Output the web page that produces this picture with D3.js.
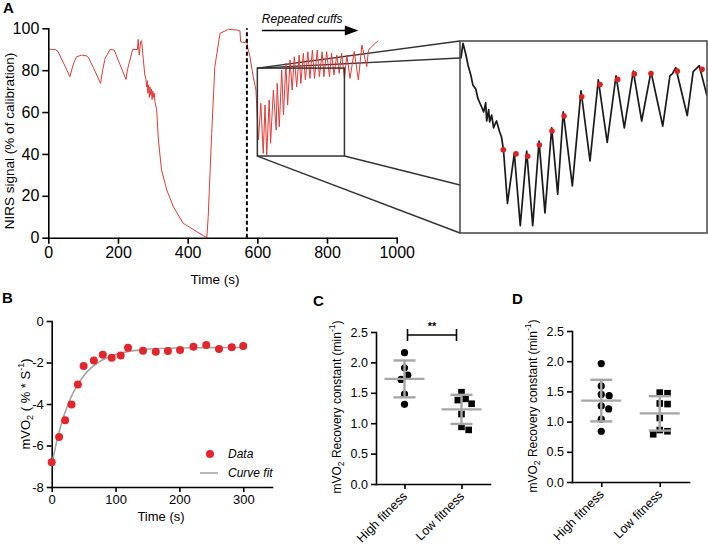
<!DOCTYPE html>
<html><head><meta charset="utf-8">
<script src="https://cdn.jsdelivr.net/npm/d3@7"></script>
<style>body{margin:0;background:#fff}</style>
</head><body>
<svg id="c" width="708" height="546"></svg>
<script>
// ---------- Panel A: NIRS trace ----------
const nirsTime = [0,10,20,28,45,62,72,81,96,110,115,130,150,156,163,177,189,205,223,227,242,256,258,261,265,268,271,277,280,282,284,286,288,290,292,294,296,298,300,302,304,306,311,316,325,340,359,387,426,445,455,459,469,478,493,517,541,550,552,565,569,572,579,588,596,603,610,617,622,627,634,638,646,654,657,663,670,675,682,687,694,700,706,713,720,725,732,738,745,751,758,764,772,778,786,791,799,807,813,820,828,835,842,850,857,866,878,890,900,914,919,928,938,947];
const nirsValue = [90.3,89.8,89.9,88.8,83,76.9,83,86.4,87.2,86.8,86.1,81,73.7,80,85.6,89.9,89.6,83,75.6,80.1,89.9,89.9,94.7,87.2,93.6,94.1,88,77.7,76,72,75,69,73,67,72,68,71,66,70,67,69,65,61.3,46.6,32.4,22.8,14.8,6.9,2.9,1,0,10.1,49.8,81.7,97.6,99.5,99.2,98.8,93.6,93.1,94.7,91,86.4,76.9,70.5,46.7,64.2,40.3,63.4,39.5,65.8,45.1,70.5,51.4,73.7,53,80.1,58.6,83.3,63.4,84.9,70.5,86.4,72.1,87.2,73.7,88.1,75.3,88.8,76.1,89.6,76.1,89.6,76.9,88.8,76.9,88.8,76.9,88.1,77.7,87.2,78.5,88.1,76.1,87.2,76.1,88.9,75.3,92,81.7,89.6,91.2,92.8,94.1];
const aXTicks = [0,200,400,600,800,1000];
const aYTicks = [0,20,40,60,80,100];
const cuffStart = 570;            // dashed line time
const zoomWindowTime = [600, 850];
const zoomWindowValue = [39, 81];

// Inset (zoomed trace)
const insetTime = [600,601,603,606,608,611,613,616,618,621,624,626,627,629,630,632,634,635,637,640,642,644,648,655,661,667.5,673.6,680,686,692.8,698.9,704.5,713.7,722.5,731.6,740,749,757.9,766.3,775.4,783.9,793.3,805.2,812.5,815,818.3,830,836,842.2,850];
const insetValue = [77.3,77.3,80.5,78,75.8,73.5,71.4,70.5,68.5,67,65.5,67.5,63.5,66,63.3,64.8,62,62.6,63.5,61.2,60,57.2,45.5,56.4,40.6,56.9,40.6,59.1,43.4,62,47.5,65.5,49.3,70.1,54.75,72.5,58.8,73.4,62,74.4,63.5,74.3,62.4,73.4,73.8,75.2,64.7,74.3,75.6,69];
const peakTime = [643.8,656.7,668.5,680.3,693.1,705.3,723.2,741.7,759.6,776.4,793.3,819.9,845];
const peakValue = [57.2,56.3,55.8,58.25,61.3,64.6,68.8,71.5,72.6,73.8,73.9,74.4,74.8];

// ---------- Panel B: mVO2 recovery ----------
const bTime = [0,11.6,21,31,41,50,66,80,94,108,119.5,143,163,182,201,222,242,262,282,300];
const bValue = [-6.81,-5.59,-4.78,-4.03,-3.06,-2.17,-1.90,-1.63,-1.77,-1.66,-1.29,-1.43,-1.48,-1.45,-1.40,-1.24,-1.16,-1.35,-1.27,-1.20];
const fitTime = [0,10,20,30,40,50,60,70,80,90,100,120,140,160,180,200,250,305];
const fitValue = [-6.93,-5.53,-4.48,-3.69,-3.10,-2.65,-2.31,-2.06,-1.87,-1.73,-1.61,-1.47,-1.39,-1.34,-1.31,-1.30,-1.285,-1.28];
const bXTicks = [0,100,200,300];
const bYTicks = [-8,-6,-4,-2,0];

// ---------- Panels C & D ----------
const groups = ["High fitness","Low fitness"];
const cHigh = [2.16,1.91,1.79,1.72,1.48,1.31];
const cLow  = [1.51,1.40,1.38,1.32,1.15,0.94,0.89];
const dHigh = [1.96,1.59,1.45,1.43,1.26,1.21,1.04,0.84];
const dLow  = [1.48,1.47,1.30,1.29,1.06,0.86,0.84,0.79];
const rcTicks = [0,0.5,1.0,1.5,2.0,2.5];

// =====================================================
const FONT = '"Liberation Sans", Arial, Helvetica, sans-serif';
const RED = "#e53935";
const GRAY = "#a6a6a6";
const svg = d3.select("#c").attr("font-family", FONT);

function styleAxis(g, fs){
  g.attr("font-family", FONT).attr("font-size", fs);
  g.select(".domain").attr("stroke","#000").attr("stroke-width",1.6).attr("stroke-linecap","square");
  g.selectAll(".tick line").attr("stroke","#000").attr("stroke-width",1.6);
  g.selectAll(".tick text").attr("fill","#000");
}
function letter(x,y,t){
  svg.append("text").attr("x",x).attr("y",y).attr("font-size",15).attr("font-weight","bold").attr("fill","#000").text(t);
}

// ---------------- Panel A ----------------
const xA = d3.scaleLinear().domain([0,1000]).range([48.3,396.7]);
const yA = d3.scaleLinear().domain([0,100]).range([237.7,28.3]);

const inset = {x0:460, x1:707, y0:41, y1:233};
const xI = d3.scaleLinear().domain(zoomWindowTime).range([inset.x0, inset.x1]);
const yI = d3.scaleLinear().domain(zoomWindowValue).range([inset.y1, inset.y0]);

// connector lines
const bx0 = xA(zoomWindowTime[0]), bx1 = xA(zoomWindowTime[1]);
const by0 = yA(zoomWindowValue[1]), by1 = yA(zoomWindowValue[0]);
const conn = [
  [bx0,by0, inset.x0, inset.y0],
  [bx0,by0, inset.x0, inset.y0 + 17],
  [bx0,by1, inset.x0, inset.y1],
  [bx1,by1, inset.x0, inset.y1 - 48]
];
svg.append("g").selectAll("line").data(conn).join("line")
  .attr("x1",d=>d[0]).attr("y1",d=>d[1]).attr("x2",d=>d[2]).attr("y2",d=>d[3])
  .attr("stroke","#333").attr("stroke-width",1.4);

// trace
const lineA = d3.line().x(d=>xA(d[0])).y(d=>yA(d[1]));
svg.append("path").datum(d3.zip(nirsTime,nirsValue)).attr("d",lineA)
  .attr("fill","none").attr("stroke",RED).attr("stroke-width",1).attr("stroke-linejoin","round");

// zoom box
svg.append("rect").attr("x",bx0).attr("y",by0).attr("width",bx1-bx0).attr("height",by1-by0)
  .attr("fill","none").attr("stroke","#333").attr("stroke-width",1.5);

// dashed line
svg.append("line").attr("x1",xA(cuffStart)).attr("x2",xA(cuffStart))
  .attr("y1",yA(0)).attr("y2",yA(100)).attr("stroke","#000").attr("stroke-width",2)
  .attr("stroke-dasharray","4,2.5");

// axes A
const gAx = svg.append("g").attr("transform",`translate(0,${yA(0)})`)
  .call(d3.axisBottom(xA).tickValues(aXTicks).tickSize(6).tickPadding(3).tickSizeOuter(0).tickFormat(d3.format("d")));
styleAxis(gAx,16);
const gAy = svg.append("g").attr("transform",`translate(${xA(0)},0)`)
  .call(d3.axisLeft(yA).tickValues(aYTicks).tickSize(6).tickPadding(3).tickSizeOuter(0).tickFormat(d3.format("d")));
styleAxis(gAy,16);

svg.append("text").attr("x",215).attr("y",284).attr("text-anchor","middle").attr("font-size",13.5).attr("fill","#000").text("Time (s)");
svg.append("text").attr("transform","translate(14,141) rotate(-90)").attr("text-anchor","middle")
  .attr("font-size",13.5).attr("fill","#000").text("NIRS signal (% of calibration)");

// Repeated cuffs arrow
const arrY = yA(98.9);
svg.append("text").attr("x",xA(613)).attr("y",arrY-8).attr("font-size",12).attr("font-style","italic").attr("fill","#000").text("Repeated cuffs");
svg.append("line").attr("x1",xA(613)).attr("x2",xA(855)).attr("y1",arrY).attr("y2",arrY).attr("stroke","#000").attr("stroke-width",1.5);
svg.append("path").attr("d",`M${xA(851)},${arrY-5}L${xA(890)},${arrY}L${xA(851)},${arrY+5}Z`).attr("fill","#000");

// inset
svg.append("clipPath").attr("id","clipI").append("rect")
  .attr("x",inset.x0).attr("y",inset.y0).attr("width",inset.x1-inset.x0).attr("height",inset.y1-inset.y0);
const lineI = d3.line().x(d=>xI(d[0])).y(d=>yI(d[1]));
svg.append("path").datum(d3.zip(insetTime,insetValue)).attr("d",lineI).attr("clip-path","url(#clipI)")
  .attr("fill","none").attr("stroke","#1a1a1a").attr("stroke-width",1.7).attr("stroke-linejoin","round");
svg.append("g").selectAll("circle").data(d3.zip(peakTime,peakValue)).join("circle")
  .attr("cx",d=>xI(d[0])).attr("cy",d=>yI(d[1])).attr("r",2.8).attr("fill","#e02020");
svg.append("rect").attr("x",inset.x0).attr("y",inset.y0).attr("width",inset.x1-inset.x0).attr("height",inset.y1-inset.y0)
  .attr("fill","none").attr("stroke","#444").attr("stroke-width",1.5);

letter(3,13,"A");

// ---------------- Panel B ----------------
const xB = d3.scaleLinear().domain([0,345]).range([51.7,272]);
const yB = d3.scaleLinear().domain([-8,0]).range([487,321]);
const gBx = svg.append("g").attr("transform",`translate(0,${yB(-8)})`)
  .call(d3.axisBottom(xB).tickValues(bXTicks).tickSize(5).tickPadding(3).tickSizeOuter(0));
styleAxis(gBx,13);
const gBy = svg.append("g").attr("transform",`translate(${xB(0)},0)`)
  .call(d3.axisLeft(yB).tickValues(bYTicks).tickSize(5).tickPadding(3).tickSizeOuter(0).tickFormat(d=>String(d)));
styleAxis(gBy,13);

const lineB = d3.line().x(d=>xB(d[0])).y(d=>yB(d[1])).curve(d3.curveMonotoneX);
svg.append("path").datum(d3.zip(fitTime,fitValue)).attr("d",lineB)
  .attr("fill","none").attr("stroke",GRAY).attr("stroke-width",1.6);
svg.append("g").selectAll("circle").data(d3.zip(bTime,bValue)).join("circle")
  .attr("cx",d=>xB(d[0])).attr("cy",d=>yB(d[1])).attr("r",4).attr("fill","#e3262b");

svg.append("text").attr("x",161).attr("y",521).attr("text-anchor","middle").attr("font-size",13).attr("fill","#000").text("Time (s)");
const tB = svg.append("text").attr("transform","translate(30,404) rotate(-90)").attr("text-anchor","middle").attr("font-size",13).attr("fill","#000");
tB.append("tspan").text("mVO");
tB.append("tspan").attr("font-size",9).attr("baseline-shift","-3").text("2");
tB.append("tspan").text(" ( % * S");
tB.append("tspan").attr("font-size",9).attr("baseline-shift","6").text("-1");
tB.append("tspan").text(")");

// legend
svg.append("circle").attr("cx",210).attr("cy",454).attr("r",4).attr("fill","#e3262b");
svg.append("text").attr("x",228).attr("y",458).attr("font-size",12).attr("font-style","italic").attr("fill","#000").text("Data");
svg.append("line").attr("x1",200).attr("x2",218).attr("y1",473).attr("y2",473).attr("stroke",GRAY).attr("stroke-width",1.6);
svg.append("text").attr("x",228).attr("y",477).attr("font-size",12).attr("font-style","italic").attr("fill","#000").text("Curve fit");

letter(2,303,"B");

// ---------------- Panels C, D ----------------
function swarm(vals, yS, D){
  const order = vals.map((v,i)=>i).sort((a,b)=>vals[b]-vals[a]);
  const placed = [];
  const out = new Array(vals.length);
  order.forEach(i=>{
    const y = yS(vals[i]);
    const cands = [0];
    placed.forEach(p=>{
      const dy = Math.abs(p.y-y);
      if (dy < D){ const dx = Math.sqrt(D*D-dy*dy); cands.push(p.x+dx, p.x-dx); }
    });
    cands.sort((a,b)=>Math.abs(a)-Math.abs(b) || b-a);
    let best = cands.find(c=>placed.every(p=>(p.x-c)**2+(p.y-y)**2 >= D*D-1e-6));
    if (best===undefined) best = 0;
    placed.push({x:best,y}); out[i]=best;
  });
  return out;
}

function dotPanel(x0,x1,yBot,yTop,high,low,labelX,labelY){
  const xS = d3.scalePoint().domain(groups).range([x0,x1]).padding(0.5);
  const yS = d3.scaleLinear().domain([0,2.5]).range([yBot,yTop]);
  const gx = svg.append("g").attr("transform",`translate(0,${yBot})`)
    .call(d3.axisBottom(xS).tickSize(5).tickSizeOuter(0));
  styleAxis(gx,12.5);
  gx.selectAll(".tick text").attr("y",0).attr("dy",0).attr("text-anchor","end")
    .attr("transform","translate(3,13) rotate(-45)");
  const gy = svg.append("g").attr("transform",`translate(${x0},0)`)
    .call(d3.axisLeft(yS).tickValues(rcTicks).tickSize(5).tickPadding(3).tickSizeOuter(0).tickFormat(d3.format(".1f")));
  styleAxis(gy,12.5);

  const hx = swarm(high,yS,8), lx = swarm(low,yS,7.8);
  svg.append("g").selectAll("circle").data(high).join("circle")
    .attr("cx",(d,i)=>xS(groups[0])+hx[i]).attr("cy",d=>yS(d)).attr("r",3.6).attr("fill","#000");
  const s = 6.6;
  svg.append("g").selectAll("rect").data(low).join("rect")
    .attr("x",(d,i)=>xS(groups[1])+lx[i]-s/2).attr("y",d=>yS(d)-s/2).attr("width",s).attr("height",s).attr("fill","#000");

  [[groups[0],high],[groups[1],low]].forEach(([g,v])=>{
    const m = d3.mean(v), sd = d3.deviation(v), cx = xS(g);
    const gg = svg.append("g").attr("stroke",GRAY).attr("stroke-width",2.4);
    gg.append("line").attr("x1",cx-20).attr("x2",cx+20).attr("y1",yS(m)).attr("y2",yS(m));
    gg.append("line").attr("x1",cx).attr("x2",cx).attr("y1",yS(m-sd)).attr("y2",yS(m+sd));
    gg.append("line").attr("x1",cx-11).attr("x2",cx+11).attr("y1",yS(m-sd)).attr("y2",yS(m-sd));
    gg.append("line").attr("x1",cx-11).attr("x2",cx+11).attr("y1",yS(m+sd)).attr("y2",yS(m+sd));
  });

  const t = svg.append("text").attr("transform",`translate(${labelX},${labelY}) rotate(-90)`)
    .attr("text-anchor","middle").attr("font-size",12).attr("fill","#000");
  t.append("tspan").text("mVO");
  t.append("tspan").attr("font-size",8.5).attr("baseline-shift","-3").text("2");
  t.append("tspan").text(" Recovery constant (min");
  t.append("tspan").attr("font-size",8.5).attr("baseline-shift","6").text("-1");
  t.append("tspan").text(")");
  return {xS,yS};
}

const C = dotPanel(376,490,484,332,cHigh,cLow,341,407);
// significance bracket
{
  const xa = C.xS(groups[0])+3, xb = C.xS(groups[1])-5, yb = C.yS(2.45);
  const g = svg.append("g").attr("stroke","#000").attr("stroke-width",1.6);
  g.append("line").attr("x1",xa).attr("x2",xb).attr("y1",yb).attr("y2",yb);
  g.append("line").attr("x1",xa).attr("x2",xa).attr("y1",yb-6).attr("y2",yb+6);
  g.append("line").attr("x1",xb).attr("x2",xb).attr("y1",yb-6).attr("y2",yb+6);
  svg.append("text").attr("x",(xa+xb)/2).attr("y",yb-5).attr("text-anchor","middle")
    .attr("font-size",11).attr("font-weight","bold").attr("fill","#000").text("**");
}
letter(313,306,"C");

dotPanel(572,689,482,331,dHigh,dLow,537,406);
letter(512,304,"D");
</script>
</body></html>
